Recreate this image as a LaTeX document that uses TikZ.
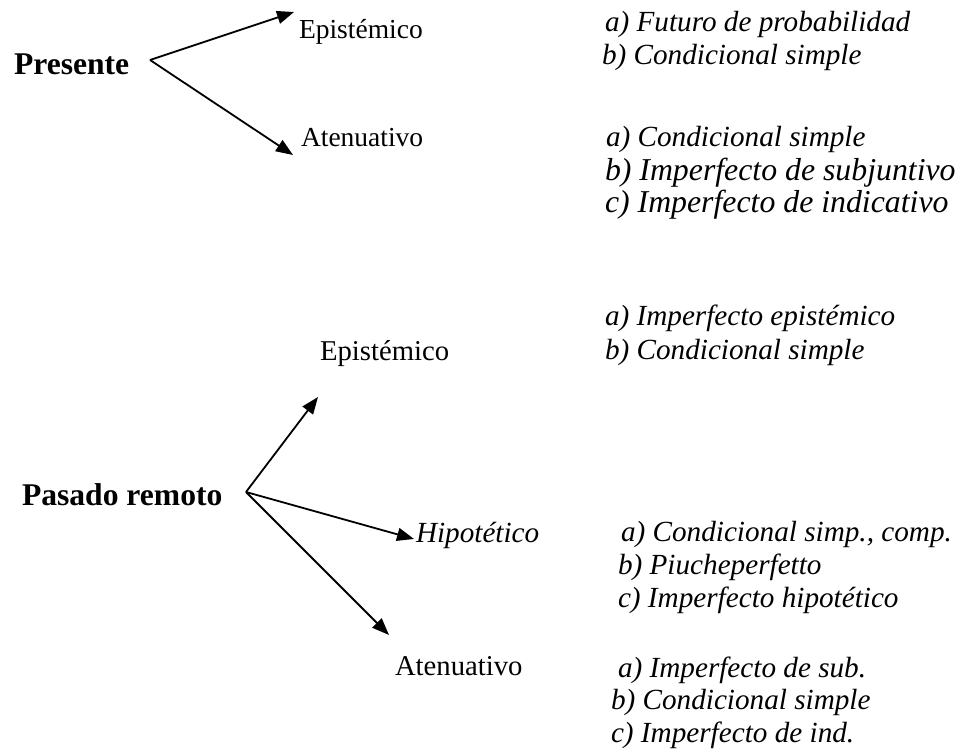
\documentclass[tikz,border=0pt]{standalone}
\usepackage{fontspec}
\setmainfont{Liberation Serif}
\usetikzlibrary{arrows.meta}
\begin{document}
\begin{tikzpicture}[x=1pt,y=-1pt,
  lbl/.style={inner sep=0pt,outer sep=0pt,anchor=base west},
  head/.style={lbl,font=\fontsize{31.6pt}{36pt}\selectfont\bfseries},
  kindA/.style={lbl,font=\fontsize{27.5pt}{32pt}\selectfont},
  kindB/.style={lbl,font=\fontsize{28.7pt}{33pt}\selectfont},
  item/.style={lbl,font=\fontsize{29.2pt}{34pt}\selectfont\itshape},
  itemL/.style={lbl,font=\fontsize{31.8pt}{36pt}\selectfont\itshape},
  arr/.style={line width=1.8pt,-{Triangle[length=17pt,width=13pt]}}]
\useasboundingbox (0,0) rectangle (967,751);

% --- Presente ---
\node[head] (pres) at (14,75) {Presente};
\coordinate (pv) at (150,60);
\coordinate (pt1) at (294,12);
\coordinate (pt2) at (293,155);
\draw[arr] (pv) -- (pt1);
\draw[arr] (pv) -- (pt2);

\node[kindA] (pepi) at (299,39) {Epistémico};
\node[kindA] (pate) at (301,147) {Atenuativo};

\node[item] (pe1) at (605,32) {a) Futuro de probabilidad};
\node[item] (pe2) at (602,65) {b) Condicional simple};

\node[item]  (pa1) at (606,147) {a) Condicional simple};
\node[itemL] (pa2) at (605,181) {b) Imperfecto de subjuntivo};
\node[itemL] (pa3) at (605,213) {c) Imperfecto de indicativo};

% --- Pasado remoto ---
\node[head] (pas) at (22,505) {Pasado remoto};
\coordinate (rv) at (246,492);
\coordinate (rt1) at (318,397);
\coordinate (rt2) at (414,539);
\coordinate (rt3) at (389,635);
\draw[arr] (rv) -- (rt1);
\draw[arr] (rv) -- (rt2);
\draw[arr] (rv) -- (rt3);

\node[kindB] (repi) at (320,361) {Epistémico};
\node[item]  (rhip) at (416,542) {Hipotético};
\node[kindB] (rate) at (395,675) {Atenuativo};

\node[item] (re1) at (605,326) {a) Imperfecto epistémico};
\node[item] (re2) at (605,360) {b) Condicional simple};

\node[item] (rh1) at (621,541) {a) Condicional simp., comp.};
\node[item] (rh2) at (618,574) {b) Piucheperfetto};
\node[item] (rh3) at (618,607) {c) Imperfecto hipotético};

\node[item] (ra1) at (618,677) {a) Imperfecto de sub.};
\node[item] (ra2) at (611,709) {b) Condicional simple};
\node[item] (ra3) at (611,742) {c) Imperfecto de ind.};
\end{tikzpicture}
\end{document}
